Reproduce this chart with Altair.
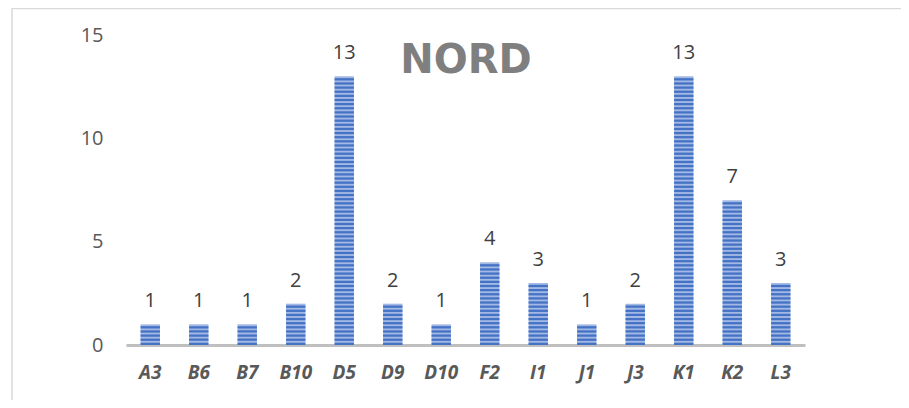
import altair as alt
import pandas as pd

categories = ["A3", "B6", "B7", "B10", "D5", "D9", "D10", "F2", "I1", "J1", "J3", "K1", "K2", "L3"]
values = [1, 1, 1, 2, 13, 2, 1, 4, 3, 1, 2, 13, 7, 3]
y_ticks = [0, 5, 10, 15]
title_text = "NORD"

df = pd.DataFrame({"cat": categories, "value": values})

FONT = "Open Sans"

x_enc = alt.X(
    "cat:N", sort=categories,
    scale=alt.Scale(paddingInner=0.6, paddingOuter=0.3),
    axis=alt.Axis(title=None, labelAngle=0, ticks=False, domainColor="#BFBFBF", domainWidth=3,
                  labelFont=FONT, labelFontSize=19, labelFontWeight="bold", labelFontStyle="italic",
                  labelColor="#595959", labelPadding=18),
)
y_scale = alt.Scale(domain=[0, 15], nice=False)
y_axis = alt.Axis(title=None, values=y_ticks, grid=False, domain=False, ticks=False,
                  labelFont=FONT, labelFontSize=20, labelColor="#595959", labelPadding=23)

base = alt.Chart(df)

bars = base.mark_bar(color="#A3B8E4").encode(
    x=x_enc, y=alt.Y("value:Q", scale=y_scale, axis=y_axis)
)

stripes = (
    base.transform_calculate(s="sequence(0, datum.value, 0.2)")
    .transform_flatten(["s"])
    .transform_calculate(s2="datum.s + 0.11")
    .mark_bar(color="#4472C4")
    .encode(x=x_enc, y=alt.Y("s:Q", scale=y_scale, axis=y_axis), y2="s2:Q")
)

labels = base.mark_text(dy=-17, baseline="alphabetic", font=FONT, fontSize=20, color="#404040").encode(
    x=x_enc, y=alt.Y("value:Q", scale=y_scale, axis=y_axis), text="value:Q"
)

title = alt.Chart(pd.DataFrame({"t": [title_text]})).mark_text(
    font="DejaVu Sans", fontSize=40, fontWeight="bold", color="#7F7F7F", baseline="alphabetic", align="center"
).encode(x=alt.value(340), y=alt.value(38), text="t:N")

frame = alt.Chart(pd.DataFrame({"t": [0]})).mark_rect(
    fillOpacity=0, stroke="#D9D9D9", strokeWidth=1.5
).encode(x=alt.value(-114), x2=alt.value(900), y=alt.value(-26.5), y2=alt.value(500))

chart = alt.layer(frame, bars, stripes, labels, title).properties(
    width=679, height=310,
    autosize=alt.AutoSizeParams(type="none"),
    padding={"left": 118, "top": 27, "right": 96, "bottom": 55},
    background="white",
).configure_view(strokeWidth=0)

chart.save("out.html", embed_options={"renderer": "svg", "actions": False})
